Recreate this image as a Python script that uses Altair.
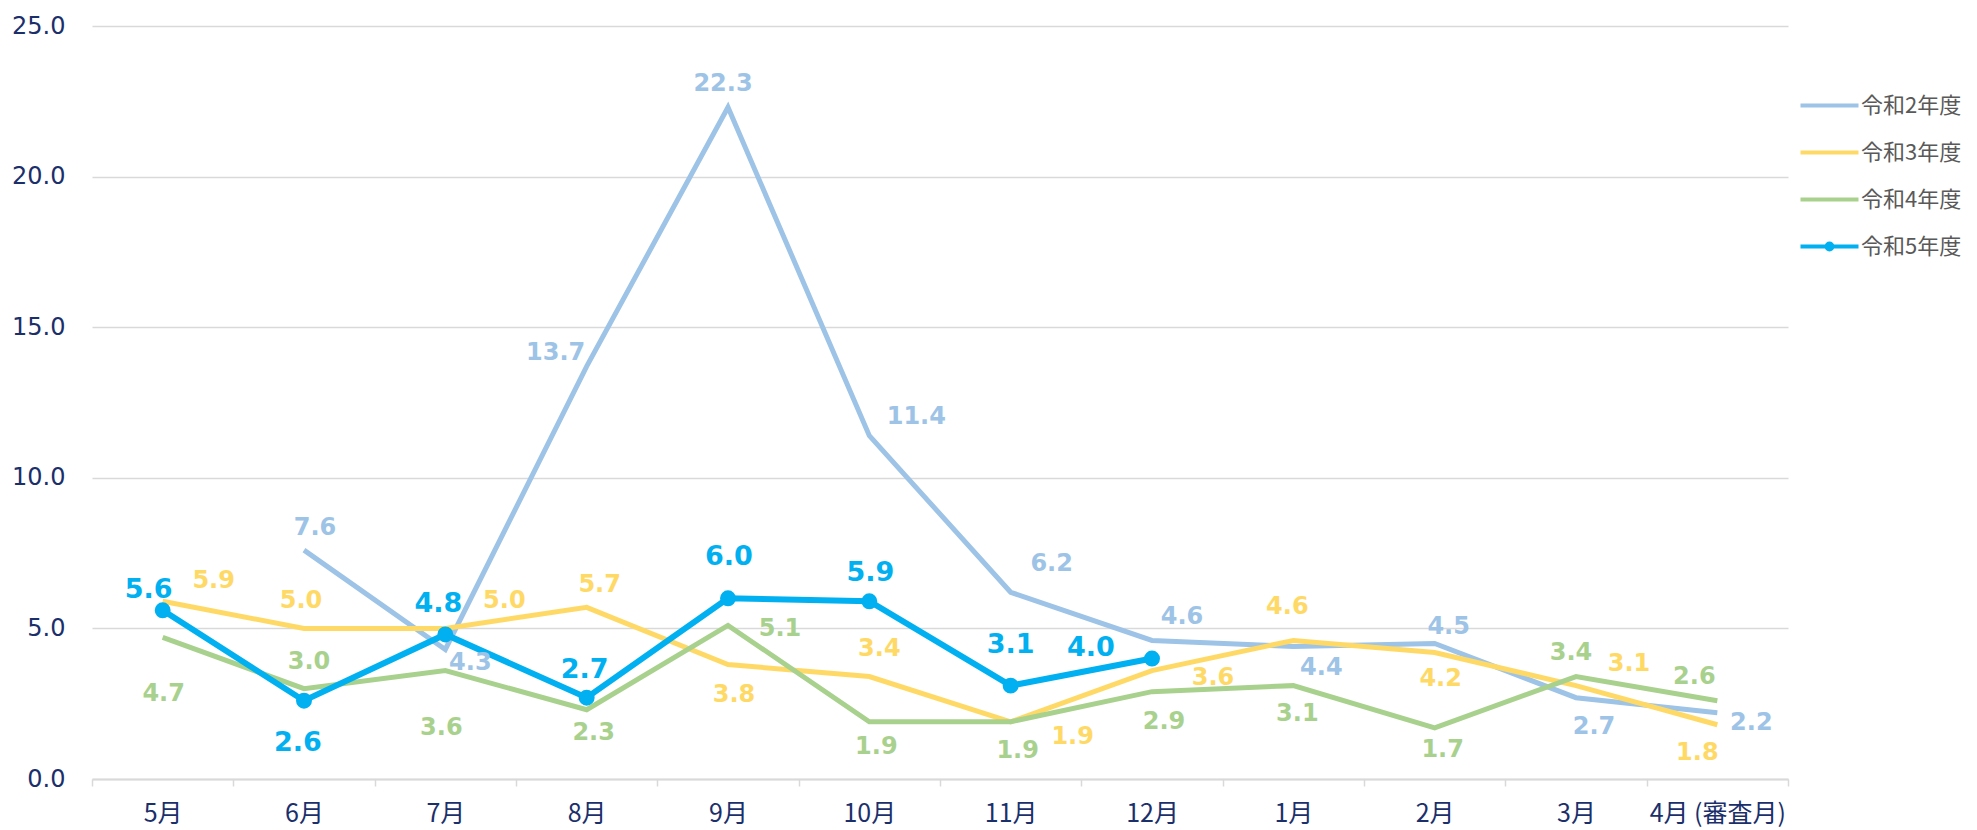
import altair as alt
import pandas as pd

# ---- data -------------------------------------------------------------
MONTHS = ["5月", "6月", "7月", "8月", "9月", "10月", "11月", "12月",
          "1月", "2月", "3月", "4月 (審査月)"]
SERIES = ["令和2年度", "令和3年度", "令和4年度", "令和5年度"]
R2 = [None, 7.6, 4.3, 13.7, 22.3, 11.4, 6.2, 4.6, 4.4, 4.5, 2.7, 2.2]
R3 = [5.9, 5.0, 5.0, 5.7, 3.8, 3.4, 1.9, 3.6, 4.6, 4.2, 3.1, 1.8]
R4 = [4.7, 3.0, 3.6, 2.3, 5.1, 1.9, 1.9, 2.9, 3.1, 1.7, 3.4, 2.6]
R5 = [5.6, 2.6, 4.8, 2.7, 6.0, 5.9, 3.1, 4.0]
Y_TICKS = [0, 5, 10, 15, 20, 25]

# ---- styles -----------------------------------------------------------
COLORS = ["#9dc3e6", "#ffd966", "#a9d18e", "#00b0f0"]
NAVY = "#1b2f6b"
GRID = "#d9d9d9"
LINE_PATH = "M-2,0L2,0"
DOT_PATH = "M-2,0L2,0M-0.2,0A0.2,0.2,0,1,0,0.2,0A0.2,0.2,0,1,0,-0.2,0Z"
SHAPES = [LINE_PATH, LINE_PATH, LINE_PATH, DOT_PATH]

# label nudges in pixels (dx, dy) relative to each point
LABEL_DX = {
    "令和2年度": [0, 11, 25, -31, -5, 47, 41, 30, 28, 14, 18, 34],
    "令和3年度": [51, -3, 59, 13, 6, 10, 62, 61, -6, 6, 53, -20],
    "令和4年度": [1, 5, -4, 7, 52, 7, 7, 12, 4, 8, -5, -23],
    "令和5年度": [-14, -6, -7, -2, 1, 1, 0, -61],
}
LABEL_DY = {
    "令和2年度": [0, -22, 14, -13, -23, -19, -28, -23, 22, -16, 29, 10],
    "令和3年度": [-20, -27, -27, -22, 30, -28, 15, 7, -33, 27, -22, 28],
    "令和4年度": [57, -27, 57, 23, 4, 25, 29, 30, 28, 22, -24, -24],
    "令和5年度": [-20, 42, -30, -28, -41, -28, -41, -11],
}

W, H = 1696, 753
BAND = W / len(MONTHS)
PXU = H / (Y_TICKS[-1] - Y_TICKS[0])

rows = []
for s, vals in zip(SERIES, [R2, R3, R4, R5]):
    for i, v in enumerate(vals):
        if v is None:
            continue
        rows.append({
            "idx": i, "value": v, "series": s, "label": f"{v:.1f}",
            "lx": i + LABEL_DX[s][i] / BAND,
            "ly": v - LABEL_DY[s][i] / PXU,
            "fs": 27 if s == "令和5年度" else 24,
        })
df = pd.DataFrame(rows)

arr = "[" + ",".join(f"'{m}'" for m in MONTHS) + "]"
x_axis = alt.Axis(
    values=[i - 0.5 for i in range(len(MONTHS) + 1)],
    labelExpr=f"{arr}[round(datum.value + 0.5)] || ''",
    labelOffset=BAND / 2, labelAlign="center", labelBaseline="middle",
    labelPadding=27, labelOverlap=False, labelBound=False, labelFlush=False,
    labelFont="Noto Sans CJK JP", labelFontSize=25, labelColor=NAVY,
    ticks=True, tickSize=7, tickColor=GRID, tickWidth=1.5,
    domain=True, domainColor=GRID, domainWidth=2,
    grid=False, title=None,
)
y_axis = alt.Axis(
    values=Y_TICKS, format=".1f", grid=True, gridColor=GRID, gridWidth=1.5,
    domain=False, ticks=False, labelPadding=27, labelFont="DejaVu Sans",
    labelFontSize=24, labelColor=NAVY, title=None,
)
x_scale = alt.Scale(domain=[-0.5, len(MONTHS) - 0.5], nice=False, zero=False)
y_scale = alt.Scale(domain=[Y_TICKS[0], Y_TICKS[-1]], nice=False)
stroke_scale = alt.Scale(domain=SERIES, range=COLORS)

legend = alt.Legend(
    title=None, orient="none", legendX=1721, legendY=63,
    symbolSize=841, symbolStrokeWidth=4, symbolFillColor="#00b0f0",
    labelOffset=15, rowPadding=19, padding=0,
    labelFont="Noto Sans CJK JP", labelFontSize=22, labelColor="#595959",
    labelLimit=300,
)

X = alt.X("idx:Q", scale=x_scale, axis=x_axis)
Y = alt.Y("value:Q", scale=y_scale, axis=y_axis)

base = alt.Chart(df)

legend_layer = base.transform_filter("false").mark_point(
    filled=True, fill="#00b0f0", opacity=1, strokeWidth=4
).encode(
    x=X, y=Y,
    stroke=alt.Stroke("series:N", scale=stroke_scale, legend=legend),
    shape=alt.Shape("series:N", scale=alt.Scale(domain=SERIES, range=SHAPES),
                    legend=legend),
)

old_lines = base.transform_filter("datum.series != '令和5年度'").mark_line(
    strokeWidth=5
).encode(
    x=X, y=Y,
    stroke=alt.Stroke("series:N", scale=stroke_scale, legend=legend),
)

new_line = base.transform_filter("datum.series == '令和5年度'").mark_line(
    strokeWidth=6
).encode(
    x=X, y=Y,
    stroke=alt.Stroke("series:N", scale=stroke_scale, legend=legend),
)

new_pts = base.transform_filter("datum.series == '令和5年度'").mark_circle(
    size=254, opacity=1, color="#00b0f0"
).encode(x=X, y=Y)

labels = base.mark_text(
    font="DejaVu Sans", fontWeight="bold", align="center", baseline="middle"
).encode(
    x=alt.X("lx:Q", scale=x_scale, axis=x_axis),
    y=alt.Y("ly:Q", scale=y_scale, axis=y_axis),
    text="label:N",
    color=alt.Color("series:N", scale=alt.Scale(domain=SERIES, range=COLORS),
                    legend=None),
    size=alt.Size("fs:Q", scale=None, legend=None),
)

chart = alt.layer(legend_layer, old_lines, new_line, new_pts, labels).properties(
    width=W, height=H, background="white",
    autosize=alt.AutoSizeParams(type="none"),
    padding={"left": 84, "top": 18, "right": 181, "bottom": 51},
).configure_view(stroke=None)

chart.save("out.html", embed_options={"renderer": "svg", "actions": False})
